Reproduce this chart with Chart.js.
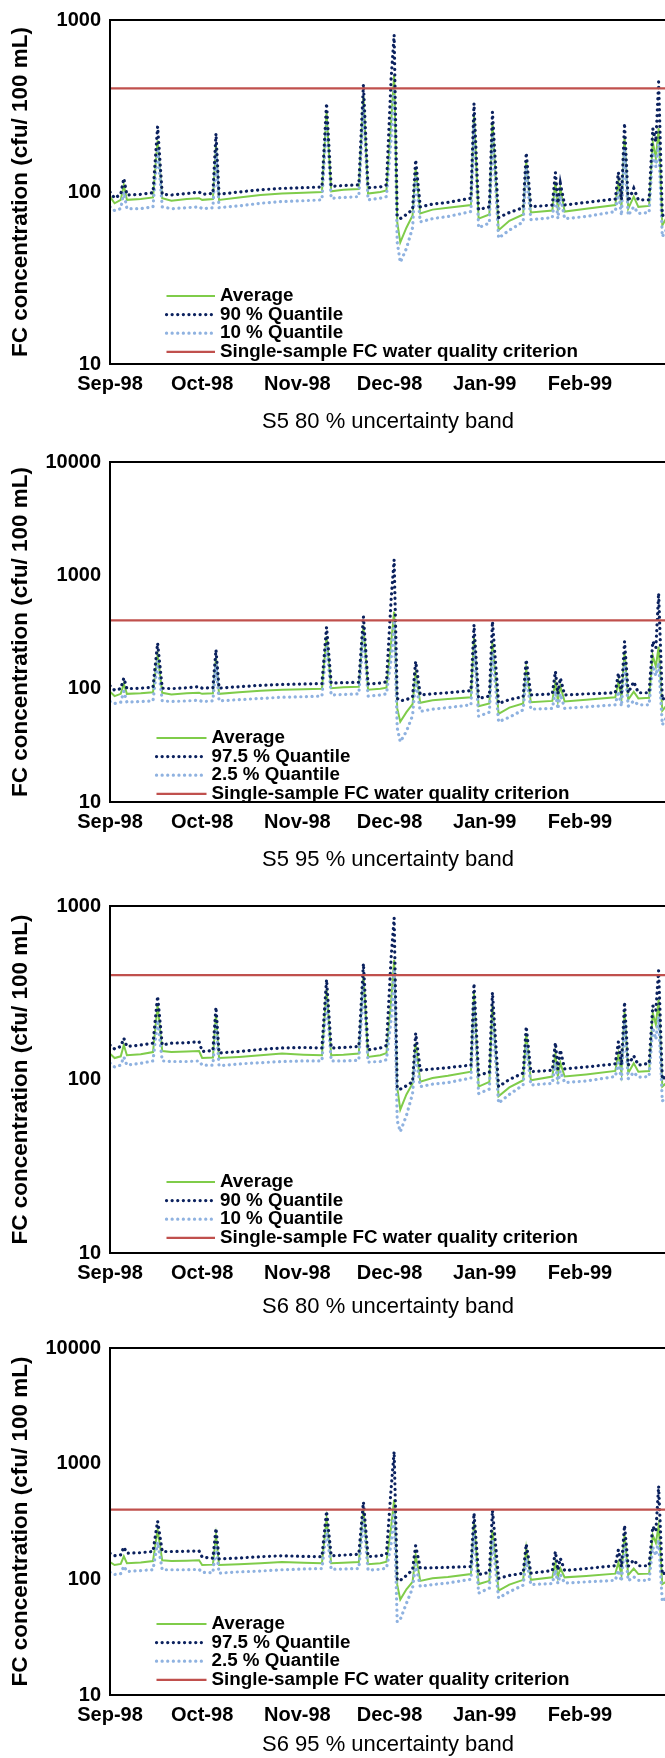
<!DOCTYPE html>
<html>
<head>
<meta charset="utf-8">
<script src="https://cdn.jsdelivr.net/npm/chart.js@4.4.0/dist/chart.umd.min.js"></script>
<style>
  html, body { margin: 0; padding: 0; background: #fff; overflow: hidden; width: 665px; height: 1758px; }
  canvas { position: absolute; left: 0; }
</style>
</head>
<body>
<canvas id="c1"></canvas>
<canvas id="c2"></canvas>
<canvas id="c3"></canvas>
<canvas id="c4"></canvas>
<script>
// jours depuis le 1er sept. 1998
const days = [0, 1.5, 3.5, 4.5, 5.5, 10, 14, 15.5, 17, 20,
  25, 29, 30, 33.5, 34.5, 35.5, 42, 49, 56, 63,
  69, 70.5, 72, 76, 81, 82.5, 84, 88, 90, 91.5,
  92.5, 93.5, 94.5, 96.5, 98.5, 99.5, 101, 105, 110, 117.5,
  118.5, 120, 123.5, 124.5, 126.5, 130, 134.5, 135.5, 137, 144,
  145, 145.8, 146.6, 148, 155, 164.5, 165.5, 166.5, 167.5, 168.7,
  170.5, 172, 175.5, 176.7, 177.7, 178.6, 179.8, 181];

const monthTicks = [0, 30, 61, 91, 122, 153];
const monthLabels = ['Sep-98', 'Oct-98', 'Nov-98', 'Dec-98', 'Jan-99', 'Feb-99'];
const yTicks = [10, 100, 1000, 10000];
const criterion = 400;

// S5
const s5Average = [94, 86, 90, 110, 90, 91, 93, 200, 92, 89,
  91, 92, 90, 91, 185, 90, 93, 96, 98, 99,
  100, 290, 101, 103, 104, 360, 98, 100, 102, 250,
  478, 67, 51, 62, 73, 137, 75, 79, 81, 84,
  280, 70, 74, 255, 60, 68, 74, 150, 76, 78,
  115, 78, 105, 77, 80, 84, 115, 82, 210, 80,
  94, 82, 83, 195, 157, 235, 64, 70];
const s5Q90 = [100, 92, 97, 120, 96, 97, 99, 240, 97, 96,
  98, 100, 97, 98, 219, 97, 100, 103, 105, 106,
  107, 328, 108, 109, 110, 423, 106, 107, 110, 450,
  818, 73, 70, 74, 79, 154, 82, 85, 87, 92,
  328, 79, 82, 292, 71, 76, 81, 169, 82, 84,
  130, 86, 112, 84, 87, 91, 130, 90, 251, 88,
  105, 90, 90, 234, 196, 437, 73, 75];
const s5Q10 = [82, 78, 80, 100, 80, 80, 82, 180, 82, 80,
  81, 82, 80, 81, 170, 81, 83, 86, 88, 89,
  90, 260, 92, 93, 94, 320, 90, 92, 94, 200,
  400, 51, 39, 47, 62, 125, 67, 70, 72, 77,
  250, 62, 66, 220, 54, 60, 67, 135, 69, 71,
  100, 70, 95, 70, 72, 77, 100, 73, 180, 73,
  82, 75, 76, 170, 140, 190, 55, 60];
const s5Q975 = [106, 97, 100, 124, 100, 101, 103, 252, 101, 100,
  102, 104, 101, 102, 220, 101, 104, 107, 109, 110,
  111, 349, 112, 113, 114, 434, 110, 112, 115, 600,
  1374, 82, 78, 80, 85, 174, 88, 90, 92, 96,
  366, 82, 86, 392, 74, 80, 85, 180, 88, 90,
  142, 90, 124, 88, 90, 92, 137, 92, 261, 92,
  115, 92, 92, 261, 230, 697, 80, 85];
const s5Q025 = [77, 74, 76, 95, 76, 77, 78, 175, 78, 77,
  78, 79, 77, 78, 165, 78, 80, 82, 84, 85,
  86, 250, 88, 89, 90, 300, 86, 88, 90, 180,
  380, 45, 34, 42, 58, 120, 63, 66, 68, 72,
  240, 57, 62, 210, 51, 56, 65, 130, 66, 67,
  95, 66, 90, 67, 69, 72, 95, 70, 170, 70,
  78, 72, 72, 160, 130, 170, 48, 55];

// S6
const s6Average = [141, 133, 136, 158, 138, 140, 144, 268, 146, 144,
  145, 146, 133, 134, 236, 133, 135, 138, 141, 139,
  138, 330, 138, 139, 141, 400, 135, 138, 142, 280,
  489, 90, 67, 82, 95, 162, 97, 102, 105, 111,
  314, 91, 97, 268, 80, 90, 99, 185, 99, 104,
  140, 104, 125, 104, 107, 112, 140, 109, 245, 109,
  124, 111, 112, 241, 207, 290, 91, 95];
const s6Q90 = [158, 150, 155, 173, 155, 158, 162, 302, 158, 162,
  163, 165, 145, 147, 261, 142, 145, 149, 152, 153,
  152, 377, 152, 153, 155, 465, 148, 152, 157, 500,
  853, 89, 88, 92, 97, 185, 113, 115, 117, 121,
  358, 106, 110, 318, 91, 100, 109, 202, 111, 113,
  163, 115, 148, 115, 118, 123, 165, 121, 280, 121,
  137, 121, 124, 266, 250, 425, 100, 105];
const s6Q10 = [124, 118, 121, 135, 121, 124, 128, 220, 128, 127,
  127, 128, 121, 121, 210, 120, 123, 125, 127, 128,
  128, 290, 128, 128, 129, 350, 126, 127, 130, 220,
  420, 58, 50, 62, 83, 140, 91, 94, 96, 102,
  270, 83, 88, 230, 73, 82, 93, 160, 93, 95,
  125, 95, 112, 96, 98, 104, 125, 100, 210, 101,
  110, 103, 104, 200, 170, 230, 75, 80];
const s6Q975 = [168, 160, 163, 190, 168, 170, 174, 318, 174, 174,
  175, 176, 156, 152, 276, 150, 153, 157, 160, 158,
  157, 388, 160, 162, 165, 465, 157, 160, 165, 600,
  1271, 98, 98, 108, 121, 195, 125, 126, 127, 129,
  373, 110, 115, 396, 102, 108, 113, 202, 113, 119,
  174, 120, 152, 119, 124, 131, 180, 128, 292, 130,
  147, 131, 131, 286, 260, 640, 110, 115];
const s6Q025 = [115, 110, 112, 130, 117, 119, 121, 210, 121, 121,
  121, 122, 115, 114, 200, 113, 116, 118, 121, 123,
  124, 270, 122, 123, 124, 330, 120, 122, 125, 200,
  400, 43, 45, 62, 84, 135, 87, 90, 93, 100,
  260, 76, 84, 220, 69, 78, 89, 150, 90, 92,
  120, 92, 110, 93, 95, 98, 120, 96, 200, 97,
  105, 98, 98, 190, 160, 220, 64, 70];

const FONT = '"Liberation Sans", Arial, Helvetica, sans-serif';
const CANVAS_W = 720;
const PLOT_LEFT = 110;
const PLOT_RIGHT = 666;
const PAD_TOP = 22;   // > demi-hauteur du libellé + padding des ticks

// mise en page des 4 panneaux
const panels = [
  { id: 'c1', avg: s5Average, hi: s5Q90, lo: s5Q10, hiName: '90 % Quantile', loName: '10 % Quantile',
    caption: 'S5 80 % uncertainty band', max: 1000, top: 20, bottom: 364, capY: 422, legX: 166.5, legX2: 215 },
  { id: 'c2', avg: s5Average, hi: s5Q975, lo: s5Q025, hiName: '97.5 % Quantile', loName: '2.5 % Quantile',
    caption: 'S5 95 % uncertainty band', max: 10000, top: 462, bottom: 802, capY: 860, legX: 156.5, legX2: 206.5 },
  { id: 'c3', avg: s6Average, hi: s6Q90, lo: s6Q10, hiName: '90 % Quantile', loName: '10 % Quantile',
    caption: 'S6 80 % uncertainty band', max: 1000, top: 906, bottom: 1253, capY: 1307, legX: 166.5, legX2: 215 },
  { id: 'c4', avg: s6Average, hi: s6Q975, lo: s6Q025, hiName: '97.5 % Quantile', loName: '2.5 % Quantile',
    caption: 'S6 95 % uncertainty band', max: 10000, top: 1348, bottom: 1695, capY: 1745, legX: 156.5, legX2: 206.5 }
];

function toPoints(vals) {
  return days.map((d, i) => ({ x: d, y: vals[i] }));
}

// cadre noir autour de la zone de tracé
const frame = {
  id: 'frame',
  afterDatasetsDraw(chart) {
    const a = chart.chartArea, c = chart.ctx;
    c.save();
    c.strokeStyle = '#000';
    c.lineWidth = 2;
    c.strokeRect(a.left, a.top, a.right - a.left, a.bottom - a.top);
    c.restore();
  }
};

// légende dessinée dans la zone de tracé
const boxLegend = {
  id: 'boxLegend',
  afterDraw(chart, args, opts) {
    const c = chart.ctx, a = chart.chartArea;
    c.save();
    c.font = 'bold 18.8px ' + FONT;
    c.textBaseline = 'middle';
    chart.data.datasets.forEach((ds, row) => {
      const y = a.top + opts.top + row * opts.step;
      c.beginPath();
      c.strokeStyle = ds.borderColor;
      c.lineWidth = ds.borderWidth;
      c.lineCap = ds.borderCapStyle || 'butt';
      c.setLineDash(ds.borderDash || []);
      c.moveTo(opts.x1, y);
      c.lineTo(opts.x2, y);
      c.stroke();
      c.setLineDash([]);
      c.fillStyle = '#000';
      c.fillText(ds.label, opts.x2 + 5, y);
    });
    c.restore();
  }
};

panels.forEach(p => {
  const canvas = document.getElementById(p.id);
  const canvasTop = p.top - PAD_TOP;
  const canvasH = p.capY + 16 - canvasTop;
  const xAxisH = p.capY + 16 - p.bottom;
  canvas.width = CANVAS_W;
  canvas.height = canvasH;
  canvas.style.top = canvasTop + 'px';

  new Chart(canvas.getContext('2d'), {
    type: 'line',
    data: {
      datasets: [
        { label: 'Average', data: toPoints(p.avg), borderColor: '#7fcc4a', borderWidth: 2, order: 3 },
        { label: p.hiName, data: toPoints(p.hi), borderColor: '#0b215e', borderWidth: 3.2,
          borderDash: [0.1, 5.5], borderCapStyle: 'round', order: 1 },
        { label: p.loName, data: toPoints(p.lo), borderColor: '#8fb2e0', borderWidth: 3.2,
          borderDash: [0.1, 5.5], borderCapStyle: 'round', order: 2 },
        { label: 'Single-sample FC water quality criterion',
          data: [{ x: 0, y: criterion }, { x: 181, y: criterion }],
          borderColor: '#c0504d', borderWidth: 2.2, order: 0 }
      ]
    },
    options: {
      responsive: false,
      animation: false,
      devicePixelRatio: 1,
      events: [],
      elements: { point: { radius: 0 }, line: { tension: 0 } },
      layout: { padding: { top: PAD_TOP, right: CANVAS_W - PLOT_RIGHT, left: 0, bottom: 0 } },
      scales: {
        x: {
          type: 'linear', min: 0, max: 181,
          afterFit: s => { s.height = xAxisH; },
          afterBuildTicks: s => { s.ticks = monthTicks.map(v => ({ value: v })); },
          ticks: {
            callback: (v, i) => monthLabels[i],
            font: { family: FONT, size: 20, weight: 'bold' },
            color: '#000', padding: 8, maxRotation: 0, autoSkip: false
          },
          grid: { display: false, drawTicks: false },
          border: { display: false },
          title: {
            display: true, text: p.caption, color: '#000',
            font: { family: FONT, size: 22 }, padding: { top: 0, bottom: 3 }
          }
        },
        y: {
          type: 'logarithmic', min: 10, max: p.max,
          afterFit: s => { s.width = PLOT_LEFT; },
          afterBuildTicks: s => { s.ticks = yTicks.filter(v => v <= p.max).map(v => ({ value: v })); },
          ticks: {
            callback: v => String(v),
            font: { family: FONT, size: 20, weight: 'bold' },
            color: '#000', padding: 9
          },
          grid: { display: false, drawTicks: false },
          border: { display: false },
          title: {
            display: true, text: 'FC concentration (cfu/ 100 mL)', color: '#000',
            font: { family: FONT, size: 22.5, weight: 'bold' }, padding: { top: 7, bottom: 0 }
          }
        }
      },
      plugins: {
        legend: { display: false },
        tooltip: { enabled: false },
        boxLegend: { x1: p.legX, x2: p.legX2, top: 276, step: 18.6 }
      }
    },
    plugins: [frame, boxLegend]
  });
});
</script>
</body>
</html>
